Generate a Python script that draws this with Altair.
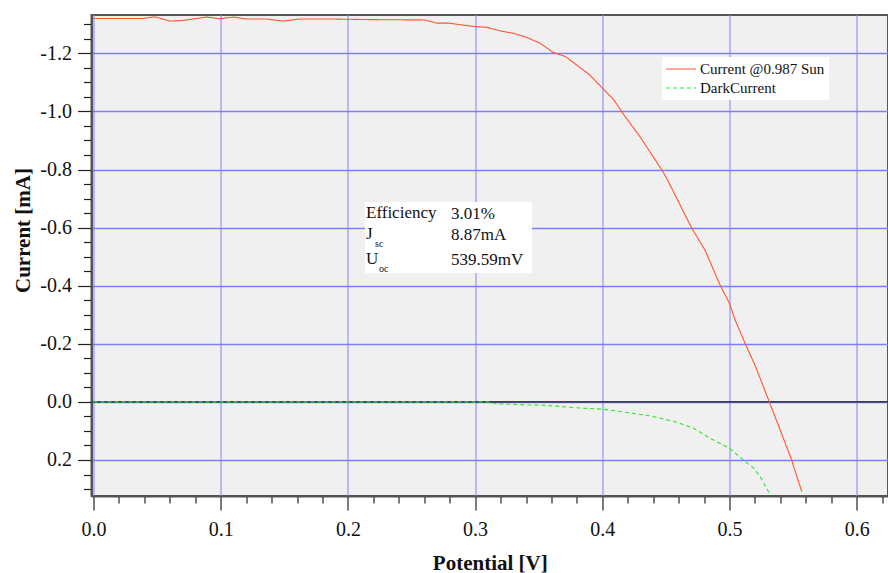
import altair as alt
import pandas as pd

series_names = ["Current @0.987 Sun", "DarkCurrent"]

light_potential = [0.000, 0.039, 0.048, 0.060, 0.070, 0.089, 0.099, 0.110, 0.120, 0.136,
                   0.149, 0.162, 0.190, 0.220, 0.260, 0.270, 0.279, 0.300, 0.309, 0.320,
                   0.330, 0.341, 0.351, 0.361, 0.371, 0.390, 0.3995, 0.409, 0.418, 0.4296,
                   0.4467, 0.4506, 0.4703, 0.4807, 0.4925, 0.4999, 0.5044, 0.5122, 0.520,
                   0.5313, 0.5489, 0.550, 0.5568]
light_current = [-1.320, -1.320, -1.326, -1.311, -1.313, -1.325, -1.319, -1.325, -1.318, -1.318,
                 -1.311, -1.318, -1.318, -1.316, -1.315, -1.304, -1.304, -1.292, -1.290, -1.277,
                 -1.269, -1.254, -1.235, -1.204, -1.189, -1.126, -1.083, -1.040, -0.982, -0.913,
                 -0.799, -0.770, -0.598, -0.523, -0.403, -0.340, -0.282, -0.202, -0.127,
                 0.000, 0.200, 0.217, 0.309]

dark_potential = [0.000, 0.310, 0.317, 0.356, 0.382, 0.400, 0.414, 0.4375, 0.4585, 0.4713,
                  0.4847, 0.500, 0.511, 0.519, 0.524, 0.531]
dark_current = [0.000, 0.000, 0.007, 0.012, 0.021, 0.025, 0.033, 0.048, 0.070, 0.090,
                0.125, 0.160, 0.200, 0.228, 0.257, 0.312]

x_tick_values = [i / 100 for i in range(0, 63, 2)]        # 0.00 .. 0.62
y_tick_values = [i / 100 for i in range(-130, 31, 5)]     # -1.30 .. 0.30

info_names = ["Efficiency", "J", "U"]
info_subscripts = ["", "sc", "oc"]
info_values = ["3.01%", "8.87mA", "539.59mV"]

df = pd.concat([
    pd.DataFrame({"potential": light_potential, "current": light_current, "series": series_names[0]}),
    pd.DataFrame({"potential": dark_potential, "current": dark_current, "series": series_names[1]}),
])

W, H = 796.5, 481
FONT = "Liberation Serif"

x_scale = alt.Scale(domain=[-0.0016, 0.6246], nice=False, zero=False)
y_scale = alt.Scale(domain=[-1.332, 0.324], nice=False, zero=False, reverse=True)

major_x = "abs(datum.value*10 - round(datum.value*10)) < 1e-6"
major_y = "abs(datum.value*5 - round(datum.value*5)) < 1e-6"

x_axis = alt.Axis(
    values=x_tick_values,
    labelExpr=f"{major_x} ? format(datum.value, '.1f') : ''",
    tickSize={"condition": {"test": major_x, "value": 14}, "value": 7},
    gridOpacity={"condition": {"test": major_x, "value": 1}, "value": 0},
    grid=True, gridColor="#a4a4ff", gridWidth=1.5,
    domainColor="#555555", domainWidth=2, tickColor="#222222", tickWidth=1.2,
    labelFont=FONT, labelFontSize=20, labelColor="#111111", labelPadding=9,
    labelFlush=False, labelOverlap=False,
    titleFont=FONT, titleFontSize=21, titleFontWeight="bold", titleColor="#111111",
    titleY=67, titleBaseline="middle",
)
y_axis = alt.Axis(
    values=y_tick_values,
    labelExpr=f"{major_y} ? replace(format(datum.value, '.1f'), '\u2212', '-') : ''",
    tickSize={"condition": {"test": major_y, "value": 14}, "value": 8},
    gridOpacity={"condition": {"test": major_y, "value": 1}, "value": 0},
    grid=True, gridColor="#7c7cff", gridWidth=1.5,
    domainColor="#555555", domainWidth=2, tickColor="#222222", tickWidth=1.2,
    labelFont=FONT, labelFontSize=20, labelColor="#111111", labelPadding=6,
    labelFlush=False, labelOverlap=False,
    titleFont=FONT, titleFontSize=21, titleFontWeight="bold", titleColor="#111111",
    titleX=-68, titleY=215, titleBaseline="middle", titleAngle=270,
)

legend = alt.Legend(
    title=None, orient="none", legendX=570.5, legendY=42,
    fillColor="white", padding=4, rowPadding=3,
    symbolType="M-2,0H2", symbolSize=225, symbolStrokeWidth=1, symbolOffset=7,
    labelFont=FONT, labelFontSize=15, labelColor="#111111", labelOffset=11,
    labelExpr=("datum.label == 'DarkCurrent' ? '\u00a0\u00a0DarkCurrent' "
               ": datum.label + '\u00a0\u00a0\u00a0'"),
)

zero_line = alt.Chart(pd.DataFrame({"current": [0.0]})).mark_rule(
    color="#3c3c58", strokeWidth=1.6
).encode(y=alt.Y("current:Q", scale=y_scale, axis=y_axis, title="Current [mA]"))

lines = alt.Chart(df).mark_line(strokeWidth=1.1).encode(
    x=alt.X("potential:Q", scale=x_scale, axis=x_axis, title="Potential [V]"),
    y=alt.Y("current:Q", scale=y_scale, axis=y_axis, title="Current [mA]"),
    color=alt.Color("series:N", scale=alt.Scale(domain=series_names, range=["#ff5533", "#22ee22"]),
                    legend=legend),
    strokeDash=alt.StrokeDash("series:N", scale=alt.Scale(domain=series_names, range=[[1, 0], [4, 3]]),
                              legend=legend),
)

one = pd.DataFrame({"k": [0]})
box = alt.Chart(one).mark_rect(fill="white").encode(
    x=alt.value(273.5), x2=alt.value(440.5), y=alt.value(187), y2=alt.value(258)
)

def txt(s, x, y, size=17):
    return alt.Chart(one).mark_text(
        align="left", baseline="middle", font=FONT, fontSize=size, color="#111111"
    ).encode(x=alt.value(x), y=alt.value(y), text=alt.value(s))

row_y = [198, 219, 244]
sub_x = [0, 283.5, 287.5]
texts = []
for i in range(3):
    texts.append(txt(info_names[i], 274.5, row_y[i]))
    if info_subscripts[i]:
        texts.append(txt(info_subscripts[i], sub_x[i], row_y[i] + 10, size=10))
    texts.append(txt(info_values[i], 359.5, row_y[i] + 1))

chart = alt.layer(zero_line, lines, box, *texts).properties(
    width=W, height=H,
    padding={"left": 91.5, "top": 15, "right": 0, "bottom": 77},
    autosize=alt.AutoSizeParams(type="none"),
    background="white",
).configure_view(fill="#f0f0f0", stroke="#555555", strokeWidth=2)

chart.save("out.html", embed_options={"renderer": "svg", "actions": False})
